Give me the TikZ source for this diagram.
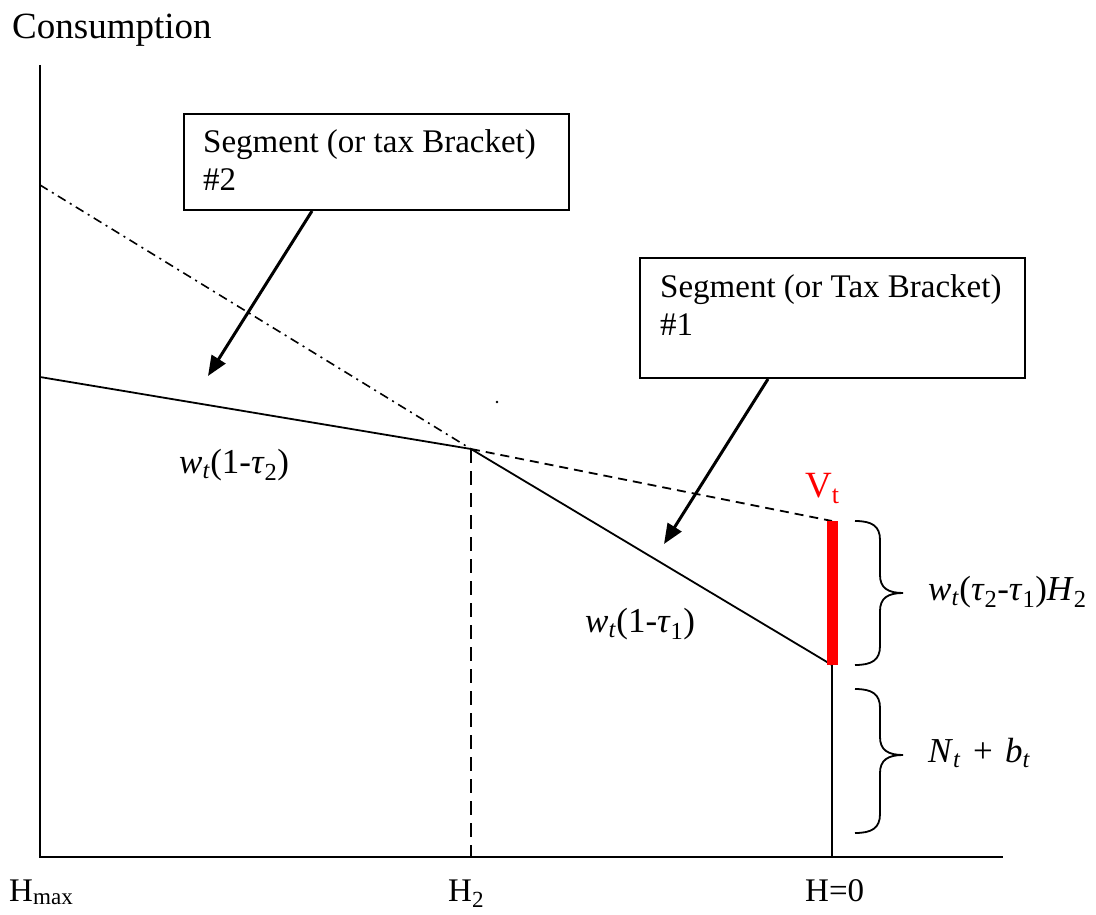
\documentclass[tikz,border=0pt]{standalone}
\usepackage{fontspec}
\setmainfont{Liberation Serif}
\usetikzlibrary{arrows.meta,calc}
\begin{document}
\begin{tikzpicture}[x=1pt,y=-1pt,
  font=\fontsize{33}{38}\selectfont,
  axisline/.style={line width=2pt},
  segline/.style={line width=1.8pt},
  boxs/.style={draw,line width=2pt,anchor=north west,inner sep=0pt},
  ptr/.style={line width=3pt,-{Triangle[length=20pt,width=16pt]}},
  lbl/.style={anchor=base west,inner sep=0pt},
  mathlbl/.style={lbl,font=\fontsize{35}{40}\selectfont},
  bracestyle/.style={line width=1.8pt}]
\useasboundingbox (0,0) rectangle (1096,915);
% coordinates
\coordinate (O) at (40,857);
\coordinate (Ytop) at (40,65);
\coordinate (Xend) at (1003,857);
\coordinate (L) at (40,377);
\coordinate (K) at (471,449);
\coordinate (R) at (832,665);
\coordinate (V) at (832,521);
\coordinate (D) at (40,185);
\coordinate (Kb) at (471,857);
\coordinate (Rb) at (832,857);
% axes
\draw[axisline] (Ytop) -- (O) -- (Xend);
% lines
\draw[line width=1.6pt,dash pattern=on 9pt off 5pt on 2pt off 5pt] (D) -- (K);
\draw[segline] (L) -- (K) -- (R);
\draw[line width=1.8pt,dash pattern=on 9pt off 6pt] (K) -- (V);
\draw[line width=1.6pt,dash pattern=on 14pt off 8pt] (K) -- (Kb);
\draw[segline] (R) -- (Rb);
\draw[red,line width=11pt] (V) -- (R);
\fill (497,402) circle (1.3pt);
% braces
\draw[bracestyle] (855,521) .. controls (872,521) and (880,526) .. (880,540) -- (880,575)
  .. controls (880,588) and (888,593) .. (903,593)
  .. controls (888,593) and (880,598) .. (880,611) -- (880,646)
  .. controls (880,660) and (872,665) .. (855,665);
\draw[bracestyle] (855,689) .. controls (872,689) and (880,694) .. (880,708) -- (880,737)
  .. controls (880,750) and (888,755) .. (903,755)
  .. controls (888,755) and (880,760) .. (880,773) -- (880,814)
  .. controls (880,828) and (872,833) .. (855,833);
% boxes
\node[boxs,minimum width=385pt,minimum height=96pt] (b2) at (183,113) {};
\node[lbl,align=left] (t2) at (203,191) {Segment (or tax Bracket)\\\#2};
\node[boxs,minimum width=385pt,minimum height=120pt] (b1) at (639,257) {};
\node[lbl,align=left] (t1) at (660,335) {Segment (or Tax Bracket)\\\#1};
% pointers
\coordinate (a2e) at (208,376);
\coordinate (a1e) at (664,544);
\draw[ptr] ($(b2.south west)+(129,0)$) -- (a2e);
\draw[ptr] ($(b1.south west)+(129,0)$) -- (a1e);
% labels
\node[lbl,font=\fontsize{37}{40}\selectfont] (cons) at (12,39) {Consumption};
\node[lbl,text=red,font=\fontsize{37}{40}\selectfont] (vt) at (805,497) {V\textsubscript{t}};
\node[mathlbl] (l2) at (179,473) {\textit{w}\textsubscript{\textit{t}}(1-\textit{τ}\textsubscript{2})};
\node[mathlbl] (l1) at (585,632) {\textit{w}\textsubscript{\textit{t}}(1-\textit{τ}\textsubscript{1})};
\node[mathlbl] (bl1) at (928,600) {\textit{w}\textsubscript{\textit{t}}(\textit{τ}\textsubscript{2}-\textit{τ}\textsubscript{1})\textit{H}\textsubscript{2}};
\node[mathlbl] (bl2) at (928,762) {\textit{N}\textsubscript{\textit{t}}\hspace{0.35em}+\hspace{0.35em}\textit{b}\textsubscript{\textit{t}}};
\node[lbl] (hmax) at (9,901) {H\textsubscript{max}};
\node[lbl] (h2) at (448,901) {H\textsubscript{2}};
\node[lbl] (h0) at (805,901) {H=0};
\end{tikzpicture}
\end{document}
